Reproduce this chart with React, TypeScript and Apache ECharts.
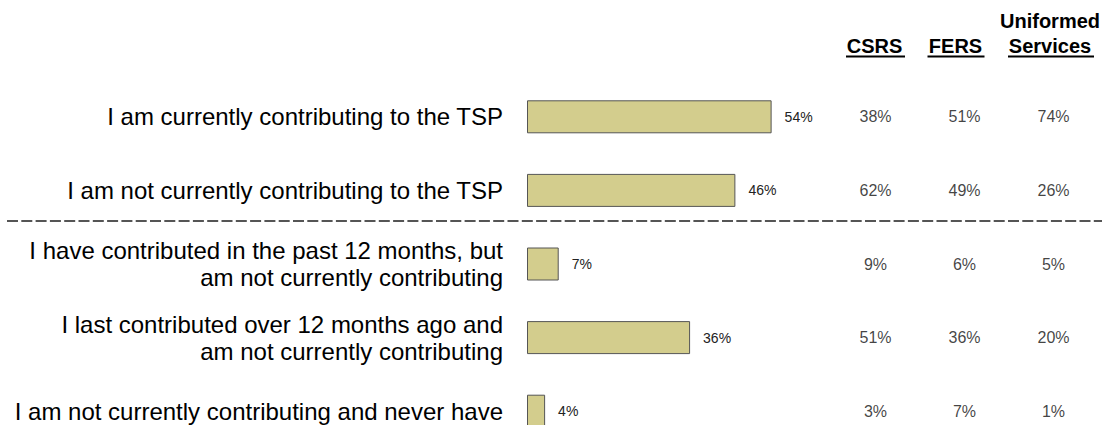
import React, { useEffect, useRef } from "react";
import * as echarts from "echarts";

const categories = [
  "I am currently contributing to the TSP",
  "I am not currently contributing to the TSP",
  "I have contributed in the past 12 months, but\nam not currently contributing",
  "I last contributed over 12 months ago and\nam not currently contributing",
  "I am not currently contributing and never have",
];
const overallValues = [54, 46, 7, 36, 4];
const columnHeaders = ["CSRS", "FERS", "Uniformed\nServices"];
const csrsValues = [38, 62, 9, 51, 3];
const fersValues = [51, 49, 6, 36, 7];
const uniformedValues = [74, 26, 5, 20, 1];
const columnValues = [csrsValues, fersValues, uniformedValues];

const FONT = "'Liberation Sans', Arial, Helvetica, sans-serif";

export default function App() {
  const ref = useRef<HTMLDivElement>(null);
  useEffect(() => {
    if (!ref.current) return;
    const chart = echarts.init(ref.current, null, { renderer: "svg" });

    const headerCenters = [874.5, 955.5, 1050];
    const underlineCenters = [875.5, 956, 1051];
    const underlineWidths = [59, 57, 86];
    const graphic: any[] = [];
    columnHeaders.forEach((h, i) => {
      graphic.push({
        type: "text",
        x: headerCenters[i],
        y: 58,
        style: {
          text: h,
          font: `bold 20px ${FONT}`,
          fill: "#000",
          textAlign: "center",
          textVerticalAlign: "bottom",
          lineHeight: 25,
        },
      });
      graphic.push({
        type: "line",
        shape: {
          x1: underlineCenters[i] - underlineWidths[i] / 2,
          y1: 56.5,
          x2: underlineCenters[i] + underlineWidths[i] / 2,
          y2: 56.5,
        },
        style: { stroke: "#000", lineWidth: 2 },
      });
    });
    graphic.push({
      type: "line",
      shape: { x1: 7, y1: 221, x2: 1102, y2: 221 },
      style: { stroke: "#555", lineWidth: 2, lineDash: [11, 3.3] },
    });

    const rowsTop = 80;
    const rowsHeight = 368;

    const colSeries = columnValues.map((vals, ci) => ({
      type: "scatter",
      xAxisIndex: 1,
      yAxisIndex: 1,
      symbol: "circle",
      symbolSize: 0.1,
      itemStyle: { color: "transparent" },
      silent: true,
      data: vals.map((v, ri) => [columnHeaders[ci], categories[ri], v]),
      label: {
        show: true,
        position: "inside",
        formatter: (p: any) => `${p.value[2]}%`,
        fontFamily: FONT,
        fontSize: 16,
        color: "#111",
      },
    }));

    chart.setOption({
      animation: false,
      grid: [
        { left: 527, width: 453, top: rowsTop, height: rowsHeight },
        { left: 831, width: 267, top: rowsTop, height: rowsHeight },
      ],
      xAxis: [
        { type: "value", gridIndex: 0, min: 0, max: 100, show: false },
        { type: "category", gridIndex: 1, data: columnHeaders, show: false },
      ],
      yAxis: [
        {
          type: "category",
          gridIndex: 0,
          data: categories,
          inverse: true,
          axisLine: { show: false },
          axisTick: { show: false },
          splitLine: { show: false },
          axisLabel: {
            margin: 24,
            fontFamily: FONT,
            fontSize: 24,
            lineHeight: 27,
            color: "#000",
            align: "right",
          },
        },
        {
          type: "category",
          gridIndex: 1,
          data: categories,
          inverse: true,
          show: false,
        },
      ],
      graphic,
      series: [
        {
          type: "bar",
          xAxisIndex: 0,
          yAxisIndex: 0,
          data: overallValues,
          barWidth: 33,
          itemStyle: { color: "#D3CD8D", borderColor: "#555", borderWidth: 1 },
          label: {
            show: true,
            position: "right",
            distance: 13,
            formatter: (p: any) => `${p.value}%`,
            fontFamily: FONT,
            fontSize: 14,
            color: "#222",
          },
        },
        ...colSeries,
      ],
    });
    return () => chart.dispose();
  }, []);
  return (
    <div
      style={{
        position: "fixed",
        left: 0,
        top: 0,
        width: 1102,
        height: 425,
        overflow: "hidden",
        background: "#fff",
      }}
    >
      <div ref={ref} style={{ width: 1102, height: 460 }} />
    </div>
  );
}
